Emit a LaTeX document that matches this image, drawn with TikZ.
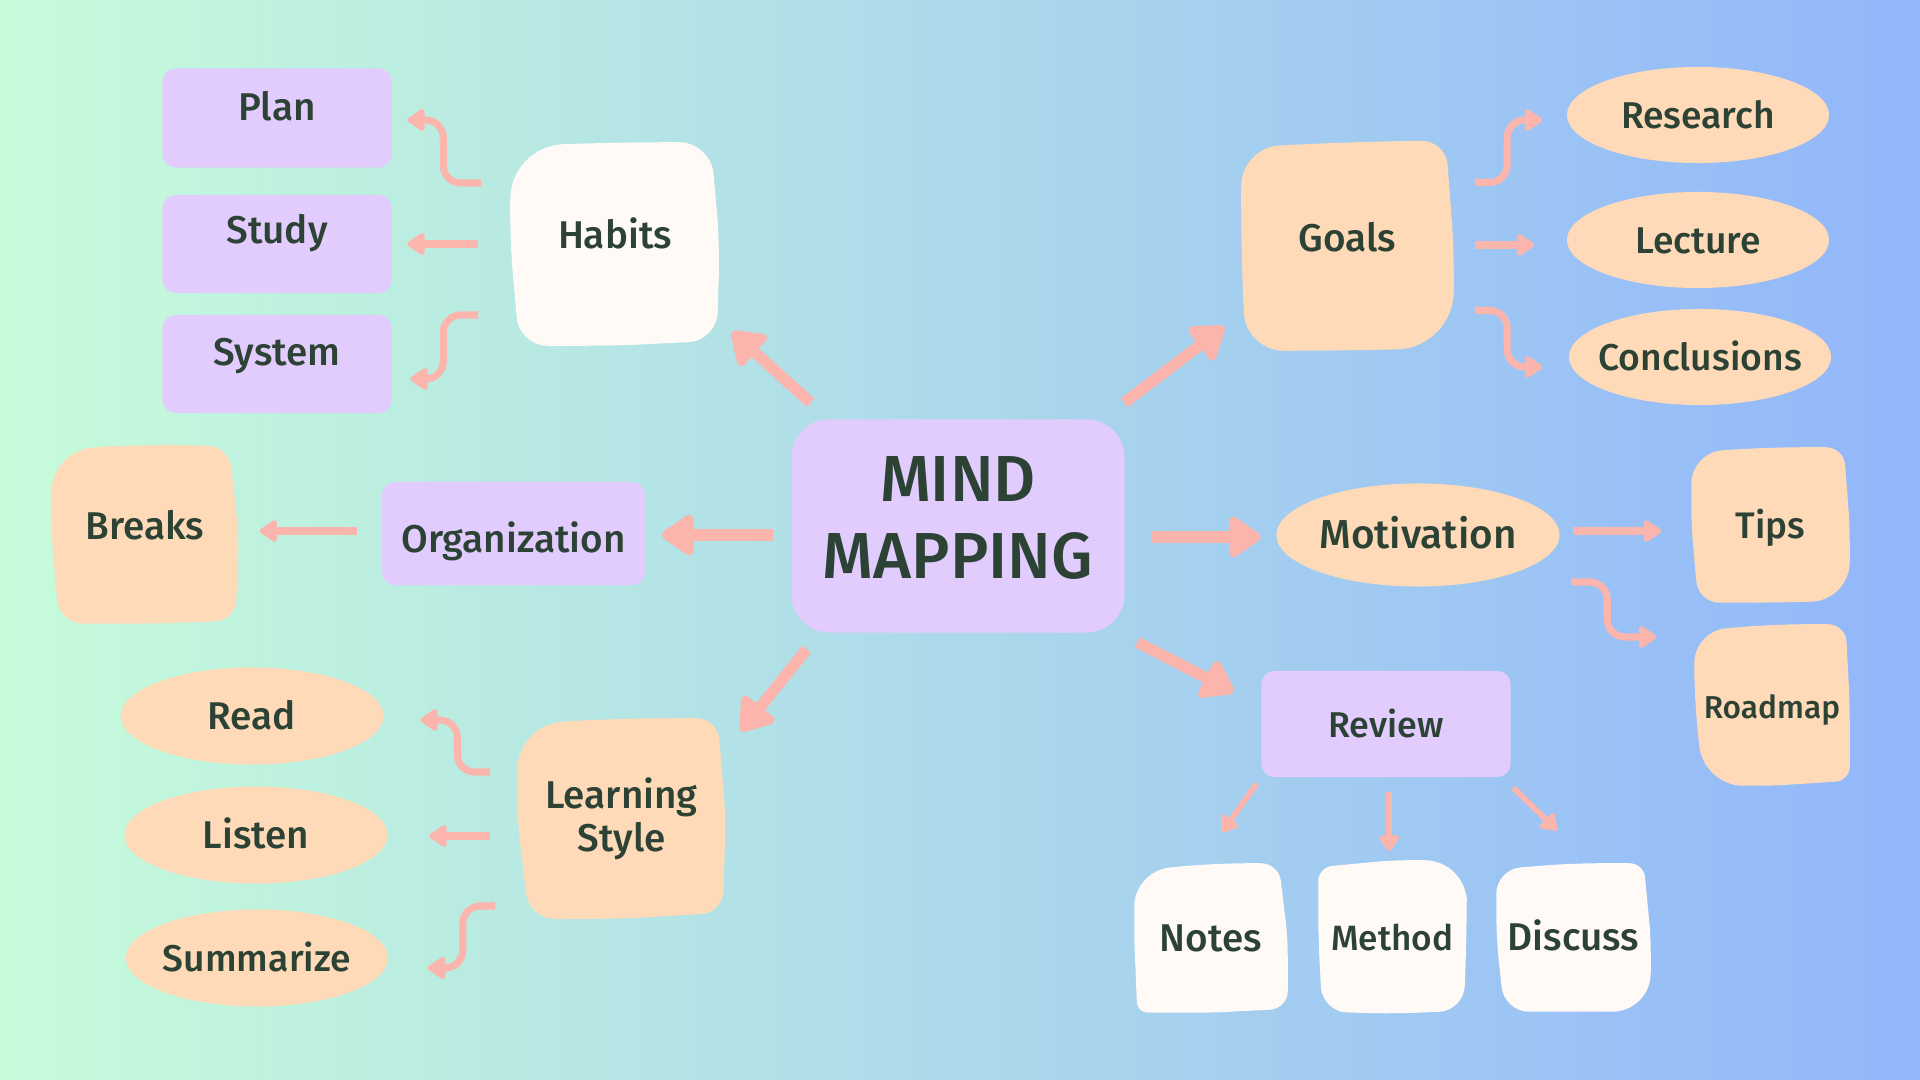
\documentclass[tikz,border=0pt]{standalone}
\usepackage{fontspec}
\setmainfont{Fira Sans}[UprightFont={* Medium}]
\usetikzlibrary{arrows.meta,shapes.geometric,calc}
\pgfdeclarelayer{bglayer}
\pgfdeclarelayer{blobs}
\pgfsetlayers{bglayer,blobs,main}
\definecolor{lav}{HTML}{E2CCFD}
\definecolor{peach}{HTML}{FEDAB9}
\definecolor{cream}{HTML}{FFFAF6}
\definecolor{ink}{HTML}{2C4235}
\definecolor{arrowc}{HTML}{FCB5AD}
\definecolor{bgl}{HTML}{C6FCDA}
\definecolor{bgm}{HTML}{B2DCE8}
\definecolor{bgr}{HTML}{92B6FB}
\begin{document}
\begin{tikzpicture}[x=0.01cm,y=-0.01cm,
  box/.style={inner sep=0pt, align=center, text=ink, font=\fontsize{11}{12.3}\selectfont},
  tu/.style={text height=8pt, text depth=#1},
  tu/.default=0.4pt,
  lavbox/.style={box, fill=lav, rounded corners=0.13cm},
  blob/.style={box},
  oval/.style={box, ellipse, fill=peach, tu,
    execute at begin node={\hbox to 0pt\bgroup\hss},
    execute at end node={\hss\egroup}},
  bigarr/.style={draw=arrowc, line width=3.2pt, -{Triangle[width=13pt,length=10pt,round]}},
  smallarr/.style={draw=arrowc, line width=2pt, rounded corners=5pt, -{Triangle[width=7pt,length=5.5pt,round]}},
  revarr/.style={draw=arrowc, line width=1.6pt, -{Triangle[width=6.5pt,length=5pt,round]}}
]
\useasboundingbox (0,0) rectangle (1920,1080);
\begin{pgfonlayer}{bglayer}
\shade[left color=bgl, middle color=bgm, right color=bgr] (0,0) rectangle (1920,1080);
\end{pgfonlayer}

% nodes
\node[lavbox, tu=6.4pt, minimum width=2.29cm, minimum height=0.99cm] (plan) at (277,118) {Plan};
\node[lavbox, tu=8.4pt, minimum width=2.29cm, minimum height=0.98cm] (study) at (277,244) {Study};
\node[lavbox, tu=7.2pt, minimum width=2.29cm, minimum height=0.98cm] (system) at (277,364) {System};
\node[blob, tu=5.3pt, minimum width=2.08cm, minimum height=2.02cm] (habits) at (615,244) {Habits};
\node[blob, tu=5.3pt, minimum width=2.11cm, minimum height=2.07cm] (goals) at (1347.5,246.5) {Goals};
\node[oval, minimum width=2.62cm, minimum height=0.96cm, font=\fontsize{10.6}{12}\selectfont] (research) at (1698,115) {Research};
\node[oval, minimum width=2.62cm, minimum height=0.96cm, font=\fontsize{10.6}{12}\selectfont] (lecture) at (1698,240) {Lecture};
\node[oval, minimum width=2.62cm, minimum height=0.96cm, font=\fontsize{10.6}{12}\selectfont] (conclusions) at (1700,357) {Conclusions};
\node[lavbox, rounded corners=0.38cm, minimum width=3.33cm, minimum height=2.13cm] (center) at (958,526) {};
\node[box, font=\fontsize{18.5}{22}\selectfont] (centertxt) at ($(center)+(0,-8)$) {MIND\\MAPPING};
\node[lavbox, text height=10.7pt, text depth=0pt, minimum width=2.63cm, minimum height=1.03cm] (org) at (513.5,533.5) {Organization};
\node[blob, tu=5pt, minimum width=1.86cm, minimum height=1.78cm] (breaks) at (145,534) {Breaks};
\node[oval, minimum width=2.83cm, minimum height=1.03cm, font=\fontsize{11.5}{13}\selectfont] (motivation) at (1418,535) {Motivation};
\node[blob, tu, minimum width=1.57cm, minimum height=1.54cm, font=\fontsize{10.5}{12}\selectfont] (tips) at (1770.5,525) {Tips};
\node[blob, tu, minimum width=1.54cm, minimum height=1.60cm, font=\fontsize{9}{11}\selectfont] (roadmap) at (1772,705) {Roadmap};
\node[lavbox, tu, minimum width=2.49cm, minimum height=1.06cm, font=\fontsize{10.2}{12}\selectfont] (review) at (1386,724) {Review};
\node[blob, tu, minimum width=1.52cm, minimum height=1.48cm] (notes) at (1211,938) {Notes};
\node[blob, tu, minimum width=1.47cm, minimum height=1.52cm, font=\fontsize{10}{12}\selectfont] (method) at (1392.5,937) {Method};
\node[blob, tu, minimum width=1.53cm, minimum height=1.47cm] (discuss) at (1573.5,937.5) {Discuss};
\node[blob, minimum width=2.07cm, minimum height=1.99cm] (learning) at (621.5,818.5) {Learning\\Style};
\node[oval, minimum width=2.63cm, minimum height=0.97cm] (read) at (252,716) {Read};
\node[oval, minimum width=2.63cm, minimum height=0.97cm] (listen) at (256,835) {Listen};
\node[oval, minimum width=2.62cm, minimum height=0.97cm, font=\fontsize{10.6}{12}\selectfont] (summarize) at (257,958) {Summarize};

% hand-drawn looking blobs
\begin{pgfonlayer}{blobs}
\fill[cream] (habits.west) [rounded corners=15pt] -- ($(habits.north west)+(0,4)$) -- (habits.north)
  [rounded corners=9pt] -- ($(habits.north east)+(-9,0)$) -- (habits.east)
  [rounded corners=8pt] -- ($(habits.south east)+(-3,-5)$) -- (habits.south)
  [rounded corners=8pt] -- ($(habits.south west)+(9,0)$) -- cycle;
\fill[peach] (goals.west) [rounded corners=11pt] -- ($(goals.north west)+(0,5)$) -- (goals.north)
  [rounded corners=7pt] -- ($(goals.north east)+(-8,-2)$) -- (goals.east)
  [rounded corners=16pt] -- ($(goals.south east)+(0,-3)$) -- (goals.south)
  [rounded corners=11pt] -- ($(goals.south west)+(4,0)$) -- cycle;
\fill[peach] (breaks.west) [rounded corners=12pt] -- ($(breaks.north west)+(0,6)$) -- (breaks.north)
  [rounded corners=6pt] -- ($(breaks.north east)+(-10,2)$) -- (breaks.east)
  [rounded corners=6pt] -- ($(breaks.south east)+(-3,-3)$) -- (breaks.south)
  [rounded corners=7pt] -- ($(breaks.south west)+(8,0)$) -- cycle;
\fill[peach] (tips.west) [rounded corners=9pt] -- ($(tips.north west)+(0,5)$) -- (tips.north)
  [rounded corners=5pt] -- ($(tips.north east)+(-6,0)$) -- (tips.east)
  [rounded corners=11pt] -- ($(tips.south east)+(0,-2)$) -- (tips.south)
  [rounded corners=6pt] -- ($(tips.south west)+(7,0)$) -- cycle;
\fill[peach] (roadmap.west) [rounded corners=9pt] -- ($(roadmap.north west)+(0,7)$) -- (roadmap.north)
  [rounded corners=5pt] -- ($(roadmap.north east)+(-4,0)$) -- (roadmap.east)
  [rounded corners=4pt] -- ($(roadmap.south east)+(0,-5)$) -- (roadmap.south)
  [rounded corners=11pt] -- ($(roadmap.south west)+(10,0)$) -- cycle;
\fill[peach] (learning.west) [rounded corners=13pt] -- ($(learning.north west)+(0,6)$) -- (learning.north)
  [rounded corners=6pt] -- ($(learning.north east)+(-8,0)$) -- (learning.east)
  [rounded corners=6pt] -- ($(learning.south east)+(-3,-6)$) -- (learning.south)
  [rounded corners=7pt] -- ($(learning.south west)+(12,0)$) -- cycle;
\fill[cream] (notes.west) [rounded corners=10pt] -- ($(notes.north west)+(0,8)$) -- (notes.north)
  [rounded corners=5pt] -- ($(notes.north east)+(-9,0)$) -- (notes.east)
  [rounded corners=5pt] -- ($(notes.south east)+(0,-4)$) -- (notes.south)
  [rounded corners=3pt] -- ($(notes.south west)+(3,0)$) -- cycle;
\fill[cream] (method.west) [rounded corners=4pt] -- ($(method.north west)+(0,7)$) -- (method.north)
  [rounded corners=12pt] -- (method.north east) -- (method.east)
  [rounded corners=7pt] -- ($(method.south east)+(-3,-3)$) -- (method.south)
  [rounded corners=7pt] -- ($(method.south west)+(4,-2)$) -- cycle;
\fill[cream] (discuss.west) [rounded corners=7pt] -- ($(discuss.north west)+(0,6)$) -- (discuss.north)
  [rounded corners=4pt] -- ($(discuss.north east)+(-7,0)$) -- (discuss.east)
  [rounded corners=11pt] -- (discuss.south east) -- (discuss.south)
  [rounded corners=7pt] -- ($(discuss.south west)+(8,0)$) -- cycle;
\end{pgfonlayer}

% arrows from the centre
\draw[bigarr] ($(center.north west)+(20,-16)$) -- ($(habits.south east)+(12,-14)$);
\draw[bigarr] ($(center.north east)+(-1,-16)$) -- ($(goals.south west)+(-17,-24)$);
\draw[bigarr] ($(center.west)+(-18,9)$) -- ($(org.east)+(16,1.5)$);
\draw[bigarr] ($(center.east)+(27,11)$) -- ($(motivation.west)+(-15,2)$);
\draw[bigarr] ($(center.south east)+(12,9)$) -- ($(review.west)+(-27,-32)$);
\draw[bigarr] ($(center.south west)+(16,16)$) -- ($(learning.north east)+(15,13)$);

% habits
\draw[smallarr] ($(habits.west)+(-29,-61)$) -| ($(plan.east)+(51,2)$) -- ($(plan.east)+(15,2)$);
\draw[smallarr] ($(habits.west)+(-32,0)$) -- ($(study.east)+(15,0)$);
\draw[smallarr] ($(habits.west)+(-32,71)$) -| ($(system.east)+(51,15)$) -- ($(system.east)+(18,15)$);

% goals
\draw[smallarr] ($(goals.east)+(21,-64)$) -| ($(research.west)+(-59,5)$) -- ($(research.west)+(-24,5)$);
\draw[smallarr] ($(goals.east)+(21,-1.5)$) -- ($(lecture.west)+(-32,5)$);
\draw[smallarr] ($(goals.east)+(21,64)$) -| ($(conclusions.west)+(-61,10)$) -- ($(conclusions.west)+(-26,10)$);

% motivation
\draw[smallarr] ($(motivation.east)+(13,-4)$) -- ($(tips.west)+(-30,6)$);
\draw[smallarr] ($(motivation.east)+(11,47)$) -| ($(roadmap.west)+(-87,-68)$) -- ($(roadmap.west)+(-38,-68)$);

% organization
\draw[smallarr] ($(org.west)+(-24,-2.5)$) -- ($(breaks.east)+(21,-3)$);

% learning style
\draw[smallarr] ($(learning.west)+(-27,-46.5)$) -| ($(read.east)+(73,4)$) -- ($(read.east)+(36,4)$);
\draw[smallarr] ($(learning.west)+(-27,17.5)$) -- ($(listen.east)+(41,1)$);
\draw[smallarr] ($(learning.west)+(-22,87.5)$) -| ($(summarize.east)+(74,10)$) -- ($(summarize.east)+(39,10)$);

% review
\draw[revarr] ($(review.south west)+(-4,6)$) -- ($(notes.north)+(11,-31)$);
\draw[revarr] ($(review.south)+(3,14)$) -- ($(method.north)+(-3.5,-9)$);
\draw[revarr] ($(review.south east)+(2,10)$) -- ($(discuss.north)+(-16.5,-33)$);
\end{tikzpicture}
\end{document}
